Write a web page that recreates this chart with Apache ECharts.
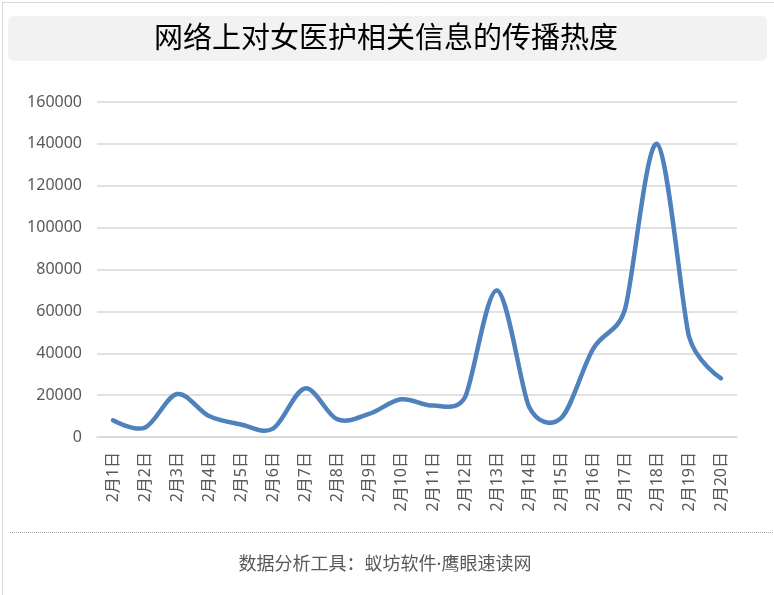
<!DOCTYPE html>
<html><head><meta charset="utf-8">
<script src="https://cdn.jsdelivr.net/npm/echarts@6/dist/echarts.min.js"></script>
<style>html,body{margin:0;padding:0;background:#fff}#c{width:774px;height:595px}</style>
</head><body><div id="c"></div>
<script>
const categories = ['2月1日','2月2日','2月3日','2月4日','2月5日','2月6日','2月7日','2月8日','2月9日','2月10日','2月11日','2月12日','2月13日','2月14日','2月15日','2月16日','2月17日','2月18日','2月19日','2月20日'];
const values = [8000, 4500, 20500, 10000, 6000, 4000, 23200, 8500, 11000, 18000, 15000, 19000, 70000, 14500, 9000, 42000, 61000, 140000, 48000, 28000];
const yTicks = [0, 20000, 40000, 60000, 80000, 100000, 120000, 140000, 160000];
const titleText = '网络上对女医护相关信息的传播热度';
const footerText = '数据分析工具：蚁坊软件·鹰眼速读网';

const font = '"Noto Sans", "Noto Sans CJK SC", sans-serif';
const chart = echarts.init(document.getElementById('c'));

// Spreadsheet-style smoothed line: Bezier arms of 1/6 of the neighbour chord,
// limited to half the shorter adjacent segment. Positions come from the axes via api.coord.
function renderSmooth(params, api) {
  if (params.dataIndex !== 0) return {type: 'group', children: []};
  const pts = values.map((v, i) => api.coord([i, v]));
  const n = pts.length;
  const dist = (a, b) => Math.hypot(b[0] - a[0], b[1] - a[1]);
  const L = [], R = [];
  for (let i = 0; i < n; i++) {
    const p = pts[i], prev = pts[Math.max(i - 1, 0)], next = pts[Math.min(i + 1, n - 1)];
    const d01 = dist(prev, p), d12 = dist(p, next), d02 = dist(prev, next);
    let f;
    if (d02 === 0) f = 0;
    else if (d02 / 6 < d12 / 2 && d02 / 6 < d01 / 2) f = 1 / 6;
    else f = Math.min(d01, d12) / (2 * d02);
    const vx = next[0] - prev[0], vy = next[1] - prev[1];
    L.push([p[0] - f * vx, p[1] - f * vy]);
    R.push([p[0] + f * vx, p[1] + f * vy]);
  }
  let d = 'M' + pts[0][0] + ' ' + pts[0][1];
  for (let i = 0; i < n - 1; i++) {
    d += ' C' + R[i][0] + ' ' + R[i][1] + ' ' + L[i + 1][0] + ' ' + L[i + 1][1] + ' ' + pts[i + 1][0] + ' ' + pts[i + 1][1];
  }
  return {
    type: 'path',
    shape: {pathData: d},
    style: {fill: 'none', stroke: '#4f81bd', lineWidth: 4.5, lineCap: 'round', lineJoin: 'round'}
  };
}

chart.setOption({
  animation: false,
  grid: {left: 97, right: 37, top: 102, bottom: 158},
  graphic: [
    {type: 'rect', left: 0, top: 0, shape: {x: 0.5, y: 0.5, width: 773, height: 594}, style: {fill: 'none', stroke: '#d9d9d9', lineWidth: 1}, silent: true},
    {type: 'rect', shape: {x: 8, y: 16, width: 759, height: 45, r: 6}, style: {fill: '#f2f2f2'}, silent: true},
    {type: 'text', x: 386, y: 40, style: {text: titleText, font: '29px ' + font, fill: '#000', align: 'center', verticalAlign: 'middle'}, silent: true},
    {type: 'line', shape: {x1: 10, y1: 532.5, x2: 774, y2: 532.5}, style: {stroke: '#a6a6a6', lineWidth: 1, lineDash: [1, 1]}, silent: true},
    {type: 'text', x: 385, y: 565, style: {text: footerText, font: '18px ' + font, fill: '#595959', align: 'center', verticalAlign: 'middle'}, silent: true}
  ],
  xAxis: {
    type: 'category', data: categories, boundaryGap: true,
    axisLine: {lineStyle: {color: '#d9d9d9', width: 1.5}},
    axisTick: {show: false},
    axisLabel: {rotate: 90, color: '#595959', fontSize: 16, fontFamily: font, margin: 15, interval: 0}
  },
  yAxis: {
    type: 'value', min: yTicks[0], max: yTicks[yTicks.length - 1], interval: 20000,
    axisLine: {show: false}, axisTick: {show: false},
    axisLabel: {color: '#595959', fontSize: 16, fontFamily: font, margin: 15, formatter: v => String(v)},
    splitLine: {lineStyle: {color: '#d9d9d9', width: 1.5}}
  },
  series: [{
    type: 'custom',
    renderItem: renderSmooth,
    data: values.map((v, i) => [i, v]),
    encode: {x: 0, y: 1},
    clip: false
  }]
});
</script></body></html>
